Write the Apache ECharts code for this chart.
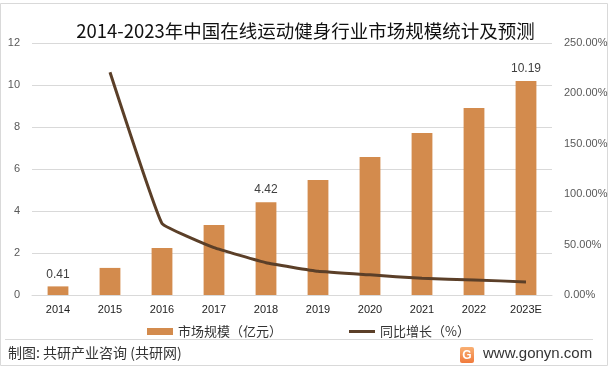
<!DOCTYPE html>
<html><head><meta charset="utf-8">
<script src="https://cdn.jsdelivr.net/npm/echarts@6/dist/echarts.min.js"></script>
<style>html,body{margin:0;padding:0;background:#fff}#c{width:611px;height:370px}</style>
</head><body><div id="c"></div>
<script>
const titleText = '2014-2023年中国在线运动健身行业市场规模统计及预测';
const categories = ['2014','2015','2016','2017','2018','2019','2020','2021','2022','2023E'];
const marketSize = [0.41, 1.29, 2.24, 3.33, 4.42, 5.48, 6.57, 7.71, 8.90, 10.19];
const growthRate = [null, 221, 71, 47, 32, 23.5, 20, 16.5, 15, 13];
const labeledCategories = ['2014', '2018', '2023E'];
const leftTicks = [0, 12, 2];      // min, max, interval
const rightTicks = [0, 250, 50];   // min, max, interval
const seriesNames = ['市场规模（亿元）', '同比增长（%）'];
const sourceText = '制图: 共研产业咨询 (共研网)';
const siteText = 'www.gonyn.com';

const chart = echarts.init(document.getElementById('c'));
const cjk = '"Noto Sans CJK SC", "Noto Sans", sans-serif';
chart.setOption({
  animation: false,
  title: {
    text: titleText, left: 'center', top: 17,
    textStyle: { fontFamily: cjk, fontSize: 18.5, fontWeight: 'normal', color: '#111' }
  },
  grid: { left: 32, right: 59, top: 43, bottom: 75 },
  legend: {
    left: 142, top: 320, itemWidth: 26, itemHeight: 7, itemGap: 67,
    textStyle: { fontFamily: cjk, fontSize: 13, color: '#333' },
    data: [
      { name: seriesNames[0], icon: 'rect' },
      { name: seriesNames[1], icon: 'path://M0,0M0,7M0,2L26,2L26,5L0,5Z', itemStyle: { color: '#5B3F28' } }
    ]
  },
  xAxis: {
    type: 'category', data: categories,
    axisLine: { lineStyle: { color: '#d9d9d9' } },
    axisTick: { show: false },
    axisLabel: { fontSize: 11, color: '#222', margin: 9, fontFamily: 'Liberation Sans, sans-serif' }
  },
  yAxis: [{
    type: 'value', min: leftTicks[0], max: leftTicks[1], interval: leftTicks[2],
    axisLine: { show: false }, axisTick: { show: false },
    splitLine: { lineStyle: { color: '#d9d9d9' } },
    axisLabel: { fontSize: 11, color: '#595959', margin: 12 }
  }, {
    type: 'value', min: rightTicks[0], max: rightTicks[1], interval: rightTicks[2],
    axisLine: { show: false }, axisTick: { show: false }, splitLine: { show: false },
    axisLabel: { fontSize: 11, color: '#595959', margin: 12, formatter: v => v.toFixed(2) + '%' }
  }],
  series: [{
    name: seriesNames[0], type: 'bar', data: marketSize, barWidth: '40%',
    itemStyle: { color: '#D38B4D' },
    label: {
      show: true, position: 'top', distance: 6, fontSize: 12, color: '#404040',
      formatter: p => labeledCategories.includes(p.name) ? p.value.toFixed(2) : ''
    }
  }, {
    name: seriesNames[1], type: 'line', yAxisIndex: 1, data: growthRate,
    symbol: 'none', smooth: 0.08,
    lineStyle: { color: '#5B3F28', width: 3 }, itemStyle: { color: '#5B3F28' }
  }],
  graphic: [
    { type: 'rect', shape: { x: 0.5, y: 3.5, width: 607, height: 362 }, style: { fill: 'none', stroke: '#d9d9d9', lineWidth: 1 }, z: -1 },
    { type: 'line', shape: { x1: 5, y1: 339.5, x2: 593, y2: 339.5 }, style: { stroke: '#d9d9d9', lineWidth: 1 } },
    { type: 'text', left: 8, top: 346, style: { text: sourceText, fontFamily: cjk, fontSize: 14, fill: '#333' } },
    { type: 'rect', shape: { x: 460, y: 347, width: 14, height: 16, r: 2 },
      style: { fill: new echarts.graphic.LinearGradient(0, 0, 0, 1, [{ offset: 0, color: '#F9B073' }, { offset: 1, color: '#F07A3C' }]) } },
    { type: 'text', x: 467, y: 355.5, style: { text: 'G', fontSize: 12, fontWeight: 'bold', fill: '#fff', align: 'center', verticalAlign: 'middle', fontFamily: 'Liberation Sans, sans-serif' } },
    { type: 'text', left: 483, top: 346, style: { text: siteText, fontFamily: '"Liberation Sans", sans-serif', fontSize: 15, fill: '#333' } }
  ]
});
</script></body></html>
